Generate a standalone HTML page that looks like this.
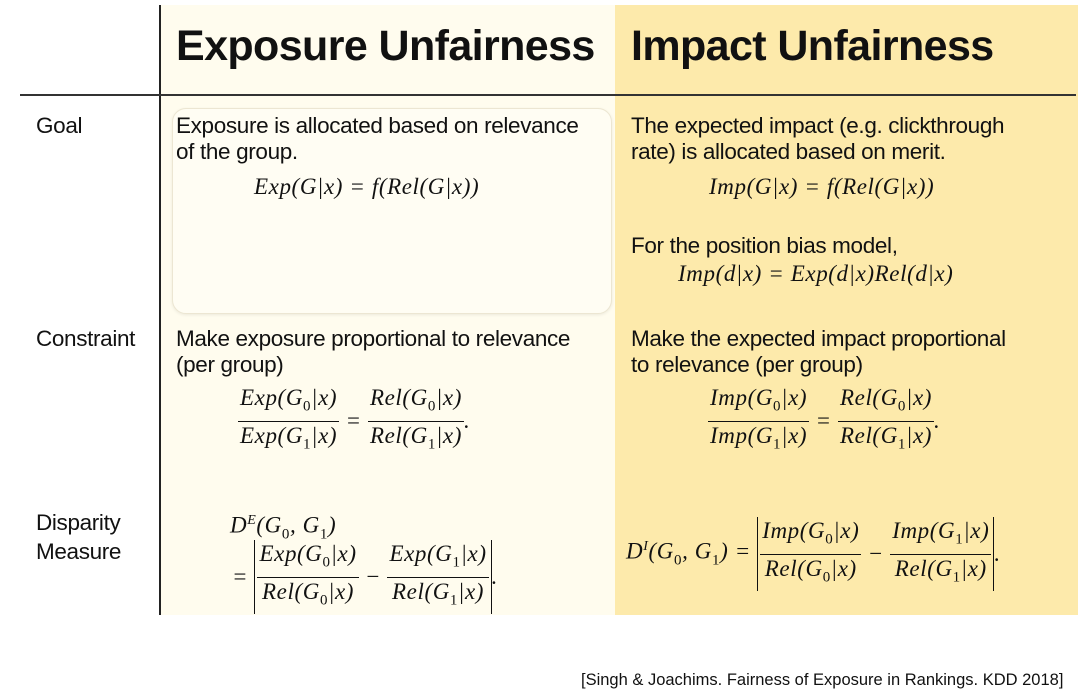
<!DOCTYPE html>
<html><head><meta charset="utf-8">
<style>
body{margin:0;width:1080px;height:700px;background:#fff;position:relative;overflow:hidden;font-family:"Liberation Sans",sans-serif;color:#111}
.a{position:absolute;white-space:nowrap}
.t{font-size:22.5px;line-height:26px;letter-spacing:-0.35px}
.m{font-family:"Liberation Serif",serif;font-style:italic;font-size:23px;line-height:28px;letter-spacing:0.6px}
.h{font-weight:bold;font-size:43px;letter-spacing:-0.6px}
.fr{display:inline-flex;flex-direction:column;vertical-align:middle;text-align:center}
.fr span:first-child{border-bottom:1.4px solid #111;padding:0 2px}
.fr span{padding:0 2px;line-height:28px}
.ab{display:inline-flex;align-items:center;border-left:1.5px solid #111;border-right:1.5px solid #111;vertical-align:middle;padding:0 2px}
.mm{display:inline-flex;align-items:center}
sub{font-size:15px;font-style:normal}
sup{font-size:14px}
</style></head><body>
<div class="a" style="left:160px;top:5px;width:455px;height:610px;background:#fffcee"></div>
<div class="a" style="left:615px;top:5px;width:463px;height:610px;background:#fdeaab"></div>
<div class="a" style="left:172px;top:108px;width:438px;height:204px;border:1.5px solid #ece6d2;border-radius:14px;background:#fffdf3;box-shadow:0 1px 3px rgba(0,0,0,0.08)"></div>
<div class="a" style="left:159px;top:5px;width:2px;height:610px;background:#222"></div>
<div class="a" style="left:20px;top:94px;width:1056px;height:2px;background:#333"></div>

<div class="a h" style="left:176px;top:22px">Exposure Unfairness</div>
<div class="a h" style="left:631px;top:22px">Impact Unfairness</div>

<div class="a t" style="left:36px;top:113px">Goal</div>
<div class="a t" style="left:36px;top:326px">Constraint</div>
<div class="a t" style="left:36px;top:508px;line-height:29px">Disparity<br>Measure</div>

<div class="a t" style="left:176px;top:113px">Exposure is allocated based on relevance<br>of the group.</div>
<div class="a m" style="left:254px;top:173px">Exp(G|x) = f(Rel(G|x))</div>

<div class="a t" style="left:631px;top:113px">The expected impact (e.g. clickthrough<br>rate) is allocated based on merit.</div>
<div class="a m" style="left:709px;top:173px">Imp(G|x) = f(Rel(G|x))</div>
<div class="a t" style="left:631px;top:233px">For the position bias model,</div>
<div class="a m" style="left:678px;top:260px">Imp(d|x) = Exp(d|x)Rel(d|x)</div>

<div class="a t" style="left:176px;top:326px">Make exposure proportional to relevance<br>(per group)</div>
<div class="a m mm" style="left:238px;top:384px"><span class="fr"><span>Exp(G<sub>0</sub>|x)</span><span>Exp(G<sub>1</sub>|x)</span></span>&nbsp;=&nbsp;<span class="fr"><span>Rel(G<sub>0</sub>|x)</span><span>Rel(G<sub>1</sub>|x)</span></span>.</div>

<div class="a t" style="left:631px;top:326px">Make the expected impact proportional<br>to relevance (per group)</div>
<div class="a m mm" style="left:708px;top:384px"><span class="fr"><span>Imp(G<sub>0</sub>|x)</span><span>Imp(G<sub>1</sub>|x)</span></span>&nbsp;=&nbsp;<span class="fr"><span>Rel(G<sub>0</sub>|x)</span><span>Rel(G<sub>1</sub>|x)</span></span>.</div>

<div class="a m" style="left:230px;top:507px">D<sup>E</sup>(G<sub>0</sub>, G<sub>1</sub>)</div>
<div class="a m mm" style="left:232px;top:540px"><span>=&nbsp;</span><span class="ab"><span class="fr"><span>Exp(G<sub>0</sub>|x)</span><span>Rel(G<sub>0</sub>|x)</span></span><span>&nbsp;−&nbsp;</span><span class="fr"><span>Exp(G<sub>1</sub>|x)</span><span>Rel(G<sub>1</sub>|x)</span></span></span><span>.</span></div>

<div class="a m mm" style="left:626px;top:517px"><span>D<sup>I</sup>(G<sub>0</sub>, G<sub>1</sub>)&nbsp;=&nbsp;</span><span class="ab"><span class="fr"><span>Imp(G<sub>0</sub>|x)</span><span>Rel(G<sub>0</sub>|x)</span></span><span>&nbsp;−&nbsp;</span><span class="fr"><span>Imp(G<sub>1</sub>|x)</span><span>Rel(G<sub>1</sub>|x)</span></span></span><span>.</span></div>

<div class="a" style="left:581px;top:671px;font-size:16.5px">[Singh &amp; Joachims. Fairness of Exposure in Rankings. KDD 2018]</div>
</body></html>
